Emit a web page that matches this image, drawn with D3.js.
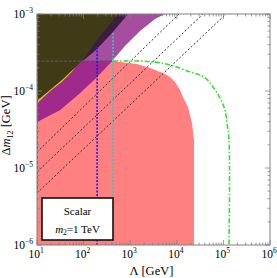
<!DOCTYPE html>
<html>
<head>
<meta charset="utf-8">
<script src="https://cdn.jsdelivr.net/npm/d3@7"></script>
<style>
  body { margin: 0; background: #fff; }
  text { font-family: "Liberation Serif", "DejaVu Serif", serif; }
</style>
</head>
<body>
<div id="chart"></div>
<script>
var svgWidth = 277;
var svgHeight = 278;

var margin = { top: 14, right: 7, bottom: 33, left: 37 };
var width = svgWidth - margin.left - margin.right;
var height = svgHeight - margin.top - margin.bottom;

// tick exponents
var xTickExp = [1, 2, 3, 4, 5, 6];
var yTickExp = [-6, -5, -4, -3];

// regions, [Lambda GeV, delta m GeV]
var pinkRegion = [[10, 2.45e-4], [427, 2.45e-4], [1400, 2.24e-4], [2660, 1.99e-4], [5060, 1.71e-4],
  [7200, 1.52e-4], [9140, 1.31e-4], [11500, 1.05e-4], [13580, 8.36e-5], [17380, 6.19e-5],
  [21180, 3.84e-5], [23400, 2.31e-5], [23400, 1e-6], [10, 1e-6]];
var purpleRegion = [[10, 1e-3], [5580, 1e-3], [3405, 8.61e-4], [1624, 6.01e-4], [773, 3.84e-4],
  [407, 2.45e-4], [194, 1.52e-4], [83.8, 9.42e-5], [31.2, 5.66e-5], [10, 3.95e-5]];
var magentaRegion = [[10, 2.45e-4], [407, 2.45e-4], [194, 1.52e-4], [83.8, 9.42e-5],
  [31.2, 5.66e-5], [10, 3.95e-5]];
var yellowRegion = [[10, 1.03e-4], [75.9, 2.53e-4], [72, 2.2e-4], [56.4, 1.78e-4],
  [34.4, 1.32e-4], [19.0, 9.9e-5], [10, 6.9e-5]];
var darkPurpleRegion = [[10, 1e-3], [897, 1e-3], [407, 5.66e-4], [184, 3.40e-4],
  [102, 2.53e-4], [10, 2.53e-4]];
var oliveRegion = [[10, 1e-3], [547, 1e-3], [194, 4.59e-4], [97, 2.53e-4], [34.4, 1.39e-4],
  [10.5, 7.64e-5], [10, 7.20e-5]];

// lines
var greenCurve = [[427, 2.45e-4], [1400, 2.45e-4], [3245, 2.38e-4], [7140, 2.18e-4],
  [19190, 1.77e-4], [38370, 1.52e-4], [59840, 1.13e-4], [84560, 8.11e-5], [108200, 5.66e-5],
  [119400, 3.84e-5], [131900, 2.31e-5], [131900, 1e-6]];
var grayHoriz = [[10, 2.45e-4], [427, 2.45e-4]];
var grayVert = [[10, 2.45e-4], [10, 4.73e-6]];
var diagLines = [
  [[10, 1.61e-5], [11140, 1e-3]],
  [[10, 8.87e-6], [36500, 1e-3]],
  [[10, 4.73e-6], [113700, 1e-3]]
];
var blueLine = [[195, 3.72e-4], [195, 1e-6]];
var cyanLine = [[427, 5.66e-4], [427, 1e-6]];

var svg = d3.select("#chart")
  .append("svg")
  .attr("width", svgWidth)
  .attr("height", svgHeight);

var chartGroup = svg.append("g")
  .attr("transform", `translate(${margin.left}, ${margin.top})`);

var x = d3.scaleLog().domain([10, 1e6]).range([0, width]);
var y = d3.scaleLog().domain([1e-6, 1e-3]).range([height, 0]);

var line = d3.line().x(d => x(d[0])).y(d => y(d[1]));
var smooth = d3.line().x(d => x(d[0])).y(d => y(d[1])).curve(d3.curveCatmullRom);

chartGroup.append("clipPath").attr("id", "clip")
  .append("rect").attr("width", width).attr("height", height);

var plot = chartGroup.append("g").attr("clip-path", "url(#clip)");

// filled regions
plot.append("path").attr("d", line(pinkRegion) + "Z").attr("fill", "#ff8080");
plot.append("path").attr("d", line(purpleRegion) + "Z").attr("fill", "#a64d9f");
plot.append("path").attr("d", line(magentaRegion) + "Z").attr("fill", "#a02a8c");
plot.append("path").attr("d", line(yellowRegion) + "Z").attr("fill", "#e2c020");
plot.append("path").attr("d", line(darkPurpleRegion) + "Z").attr("fill", "#3b1e3e");
plot.append("path").attr("d", line(oliveRegion) + "Z").attr("fill", "#403a17");

// diagonal dashed lines
diagLines.forEach(function(l) {
  plot.append("path").attr("d", line(l))
    .attr("fill", "none").attr("stroke", "#333")
    .attr("stroke-width", 1).attr("stroke-dasharray", "2,2");
});

plot.append("path").attr("d", line(grayHoriz))
  .attr("fill", "none").attr("stroke", "#555")
  .attr("stroke-width", 1.2).attr("stroke-dasharray", "3,1.5");
plot.append("path").attr("d", line(grayVert))
  .attr("fill", "none").attr("stroke", "#666")
  .attr("stroke-width", 2).attr("stroke-dasharray", "3,2");

plot.append("path").attr("d", line(blueLine))
  .attr("fill", "none").attr("stroke", "#1a1aff")
  .attr("stroke-width", 1.6).attr("stroke-dasharray", "2,1.5");
plot.append("path").attr("d", line(cyanLine))
  .attr("fill", "none").attr("stroke", "#2ec8c8")
  .attr("stroke-width", 1.6).attr("stroke-dasharray", "2,1.5");

plot.append("path").attr("d", smooth(greenCurve))
  .attr("fill", "none").attr("stroke", "#33e033")
  .attr("stroke-width", 1.6).attr("stroke-dasharray", "5,2,1.5,2");

// frame
chartGroup.append("rect")
  .attr("width", width).attr("height", height)
  .attr("fill", "none").attr("stroke", "#808080").attr("stroke-width", 1);

// ticks on all sides
var xMinor = [], yMinor = [];
for (var e = 1; e < 6; e++) for (var m = 2; m < 10; m++) xMinor.push(m * Math.pow(10, e));
for (var e2 = -6; e2 < -3; e2++) for (var m2 = 2; m2 < 10; m2++) yMinor.push(m2 * Math.pow(10, e2));

var ticks = chartGroup.append("g").attr("stroke", "#808080").attr("stroke-width", 0.8);
xTickExp.forEach(function(p) {
  var xv = x(Math.pow(10, p));
  ticks.append("line").attr("x1", xv).attr("x2", xv).attr("y1", height).attr("y2", height - 5);
  ticks.append("line").attr("x1", xv).attr("x2", xv).attr("y1", 0).attr("y2", 5);
});
xMinor.forEach(function(v) {
  ticks.append("line").attr("x1", x(v)).attr("x2", x(v)).attr("y1", height).attr("y2", height - 2.5);
  ticks.append("line").attr("x1", x(v)).attr("x2", x(v)).attr("y1", 0).attr("y2", 2.5);
});
yTickExp.forEach(function(p) {
  var yv = y(Math.pow(10, p));
  ticks.append("line").attr("x1", 0).attr("x2", 5).attr("y1", yv).attr("y2", yv);
  ticks.append("line").attr("x1", width).attr("x2", width - 5).attr("y1", yv).attr("y2", yv);
});
yMinor.forEach(function(v) {
  ticks.append("line").attr("x1", 0).attr("x2", 2.5).attr("y1", y(v)).attr("y2", y(v));
  ticks.append("line").attr("x1", width).attr("x2", width - 2.5).attr("y1", y(v)).attr("y2", y(v));
});

// tick labels
xTickExp.forEach(function(p) {
  var t = chartGroup.append("text")
    .attr("x", x(Math.pow(10, p)) - 1)
    .attr("y", height + 13)
    .attr("text-anchor", "middle")
    .attr("font-size", 11.5);
  t.append("tspan").text("10");
  t.append("tspan").attr("dy", -5).attr("font-size", 7.5).text(p);
});
yTickExp.forEach(function(p) {
  var t = chartGroup.append("text")
    .attr("x", -4)
    .attr("y", y(Math.pow(10, p)) + 4)
    .attr("text-anchor", "end")
    .attr("font-size", 11.5);
  t.append("tspan").text("10");
  t.append("tspan").attr("dy", -5).attr("font-size", 7.5).text("\u2212" + (-p));
});

// axis labels
var xl = chartGroup.append("text")
  .attr("x", width / 2 - 2)
  .attr("y", height + 30)
  .attr("text-anchor", "middle")
  .attr("font-size", 12.5);
xl.append("tspan").text("\u039B [GeV]");

var yl = chartGroup.append("text")
  .attr("transform", `translate(${-27}, ${height / 2 - 4}) rotate(-90)`)
  .attr("text-anchor", "middle")
  .attr("font-size", 12.5);
yl.append("tspan").text("\u0394");
yl.append("tspan").attr("font-style", "italic").text("m");
yl.append("tspan").attr("font-size", 8).attr("dy", 3).text("12");
yl.append("tspan").attr("dy", -3).text(" [GeV]");

// legend box
var lg = chartGroup.append("g").attr("transform", "translate(5, 184)");
lg.append("rect").attr("width", 71).attr("height", 42)
  .attr("fill", "#fff").attr("stroke", "#111").attr("stroke-width", 1.6);
lg.append("text").attr("x", 35.5).attr("y", 17).attr("text-anchor", "middle")
  .attr("font-size", 11).text("Scalar");
var lt = lg.append("text").attr("x", 35.5).attr("y", 35).attr("text-anchor", "middle")
  .attr("font-size", 11);
lt.append("tspan").attr("font-style", "italic").text("m");
lt.append("tspan").attr("font-size", 7.5).attr("dy", 2).text("2");
lt.append("tspan").attr("dy", -2).text("=1 TeV");
</script>
</body>
</html>
